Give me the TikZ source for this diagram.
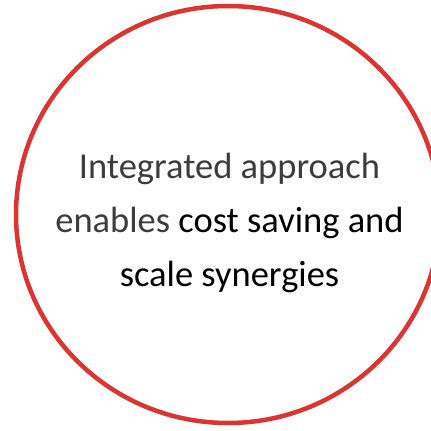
\documentclass[tikz,border=0pt]{standalone}
\usepackage{fontspec}
\setmainfont{Carlito}
\definecolor{ringred}{RGB}{220,52,50}
\definecolor{lighttext}{RGB}{60,60,60}
\begin{document}
\begin{tikzpicture}[x=1pt,y=-1pt]
\useasboundingbox (0,0) rectangle (431,431);
\clip (0,0) rectangle (431,431);

% Define center point
\coordinate (O) at (228,214.5);

% Construct ring
\draw[ringred,line width=4.5pt] (O) ellipse [x radius=212, y radius=208.5];

% Construct message
\node[align=center,inner sep=0pt,anchor=base,text=lighttext,
  font={\fontsize{36.5}{54}\selectfont}] (msg) at (229.5,286)
  {Integrated approach\\
   enables {\color{black}cost saving and}\\
   {\color{black}scale synergies}};
\end{tikzpicture}
\end{document}
